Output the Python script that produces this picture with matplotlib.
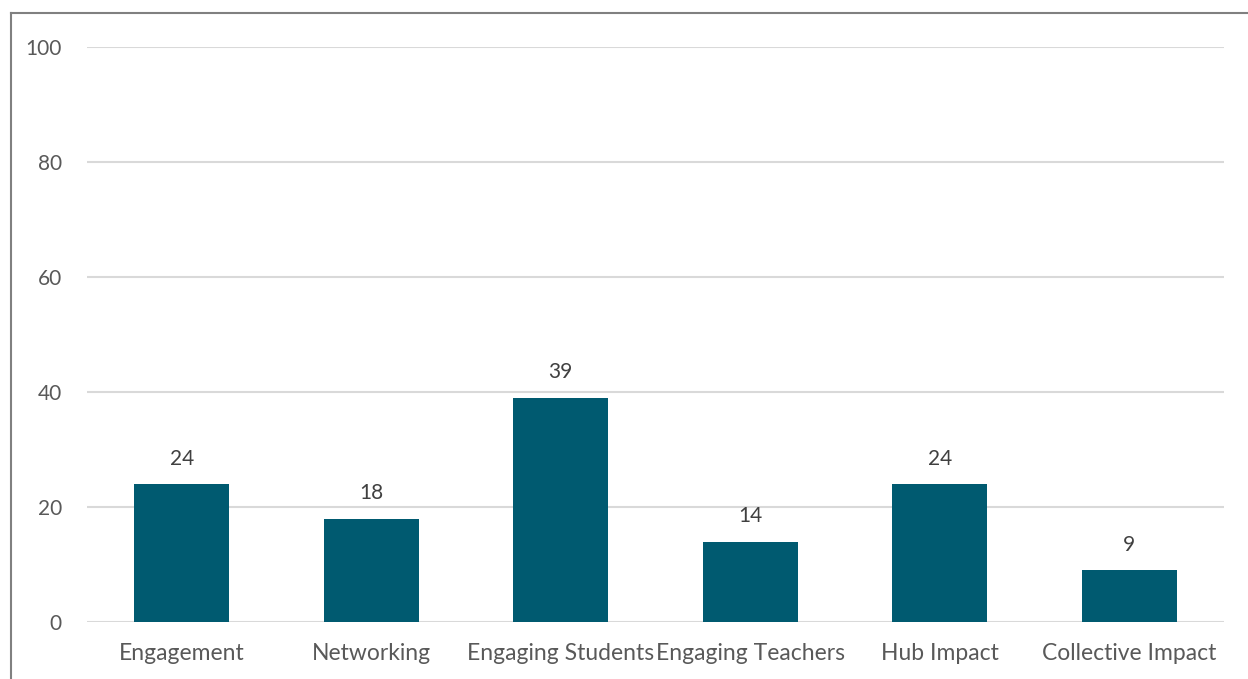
import matplotlib.pyplot as plt
from matplotlib.lines import Line2D

categorias = ['Engagement', 'Networking', 'Engaging Students',
              'Engaging Teachers', 'Hub Impact', 'Collective Impact']
valores = [24, 18, 39, 14, 24, 9]
ticks_y = [0, 20, 40, 60, 80, 100]

plt.rcParams['font.family'] = ['Lato', 'DejaVu Sans']

fig = plt.figure(figsize=(12.48, 6.79), dpi=100)
ax = fig.add_axes([87 / 1248, 1 - 622 / 679, (1224 - 87) / 1248, (622 - 47) / 679])

x = range(len(categorias))
barras = ax.bar(x, valores, width=0.5, color='#005A70', zorder=3)
ax.bar_label(barras, labels=[str(v) for v in valores], padding=11,
             fontsize=15, color='#404040')

ax.set_xlim(-0.5, len(categorias) - 0.5)
ax.set_ylim(0, 100)
ax.set_yticks(ticks_y)
ax.set_xticks(list(x))
ax.set_xticklabels(categorias, fontsize=16.5, color='#595959')
ax.tick_params(axis='y', labelsize=15, labelcolor='#595959', length=0, pad=18)
ax.tick_params(axis='x', length=0, pad=15)
ax.yaxis.grid(True, color='#D9D9D9', linewidth=1.5, zorder=0)
for lado in ax.spines.values():
    lado.set_visible(False)

# marco gris del recorte (izquierda y arriba)
fig.add_artist(Line2D([11 / 1248, 11 / 1248], [0, 1 - 13 / 679],
                      transform=fig.transFigure, color='#808080', linewidth=1.5))
fig.add_artist(Line2D([11 / 1248, 1], [1 - 13 / 679, 1 - 13 / 679],
                      transform=fig.transFigure, color='#808080', linewidth=1.5))

fig.savefig('out.png', dpi=100)
